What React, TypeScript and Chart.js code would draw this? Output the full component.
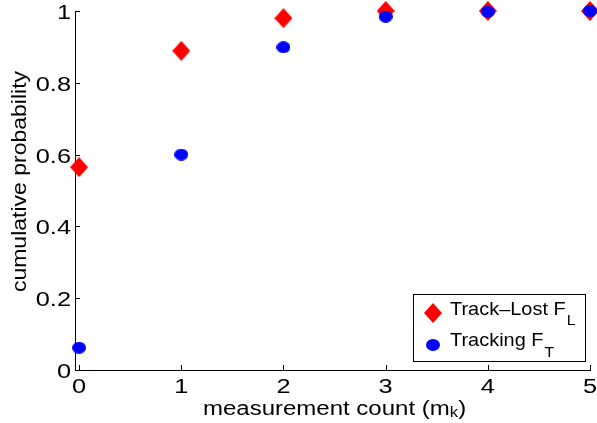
import React, { useEffect, useRef } from "react";
import { Chart, registerables } from "chart.js";

Chart.register(...registerables);

// ---- data ----
const categories = [0, 1, 2, 3, 4, 5];
const trackLost = [0.565, 0.889, 0.98, 1.0, 1.0, 1.0];
const tracking = [0.062, 0.6, 0.899, 0.984, 0.998, 1.0];
const xTicks = [0, 1, 2, 3, 4, 5];
const xTickLabels = ["0", "1", "2", "3", "4", "5"];
const yTicks = [0, 0.2, 0.4, 0.6, 0.8, 1];
const yTickLabels = ["0", "0.2", "0.4", "0.6", "0.8", "1"];
const seriesNames = ["Track\u2013Lost F", "Tracking F"];
const seriesSubs = ["L", "T"];
const xTitleMain = "measurement count (m";
const xTitleSub = "k";
const xTitleEnd = ")";
const yTitle = "cumulative probability";

const FONT = '"Liberation Sans", Arial, Helvetica, sans-serif';

function makeDiamond(w: number, h: number, color: string) {
  const c = document.createElement("canvas");
  c.width = w;
  c.height = h;
  const g = c.getContext("2d")!;
  g.fillStyle = color;
  g.beginPath();
  g.moveTo(w / 2, 0);
  g.lineTo(w, h / 2);
  g.lineTo(w / 2, h);
  g.lineTo(0, h / 2);
  g.closePath();
  g.fill();
  return c;
}

function makeEllipse(w: number, h: number, color: string) {
  const c = document.createElement("canvas");
  c.width = w;
  c.height = h;
  const g = c.getContext("2d")!;
  g.fillStyle = color;
  g.beginPath();
  g.ellipse(w / 2, h / 2, w / 2, h / 2, 0, 0, Math.PI * 2);
  g.fill();
  return c;
}

function drawText(
  ctx: CanvasRenderingContext2D,
  text: string,
  x: number,
  y: number,
  size: number,
  align: "left" | "center" | "right",
  sx: number
) {
  ctx.save();
  ctx.font = `${size}px ${FONT}`;
  ctx.textBaseline = "alphabetic";
  ctx.textAlign = "left";
  const w = ctx.measureText(text).width * sx;
  const left = align === "center" ? x - w / 2 : align === "right" ? x - w : x;
  ctx.translate(left, y);
  ctx.scale(sx, 1);
  ctx.fillStyle = "#000";
  ctx.fillText(text, 0, 0);
  ctx.restore();
  return w;
}

function measure(ctx: CanvasRenderingContext2D, text: string, size: number, sx: number) {
  ctx.save();
  ctx.font = `${size}px ${FONT}`;
  const w = ctx.measureText(text).width * sx;
  ctx.restore();
  return w;
}

export default function App() {
  const ref = useRef<HTMLCanvasElement | null>(null);

  useEffect(() => {
    document.body.style.margin = "0";
    const canvas = ref.current!;
    const diamond = makeDiamond(18, 20, "#ff0000");
    const ellipse = makeEllipse(14, 12, "#0000ff");
    const markers = [diamond, ellipse];

    const axisDecor = {
      id: "axisDecor",
      beforeDatasetsDraw(chart: any) {
        const ctx = chart.ctx as CanvasRenderingContext2D;
        const xs = chart.scales.x;
        const ys = chart.scales.y;
        const area = chart.chartArea;
        ctx.save();
        ctx.strokeStyle = "#000";
        ctx.lineWidth = 1;
        ctx.beginPath();
        xs.ticks.forEach((t: any) => {
          const px = Math.round(xs.getPixelForValue(t.value)) + 0.5;
          ctx.moveTo(px, area.bottom);
          ctx.lineTo(px, area.bottom - 5);
        });
        ys.ticks.forEach((t: any) => {
          const py = Math.round(ys.getPixelForValue(t.value)) + 0.5;
          ctx.moveTo(area.left, py);
          ctx.lineTo(area.left + 5, py);
        });
        ctx.stroke();
        ctx.restore();
      },
      afterDraw(chart: any) {
        const ctx = chart.ctx as CanvasRenderingContext2D;
        const xs = chart.scales.x;
        const ys = chart.scales.y;
        const area = chart.chartArea;
        // tick labels
        xs.ticks.forEach((t: any, i: number) => {
          const px = xs.getPixelForValue(t.value);
          drawText(ctx, xTickLabels[i], px, area.bottom + 23, 19.5, "center", 1.3);
        });
        ys.ticks.forEach((t: any, i: number) => {
          const py = ys.getPixelForValue(t.value);
          drawText(ctx, yTickLabels[i], area.left - 4, py + 8, 19.5, "right", 1.3);
        });
        // x title
        const cx = (xs.getPixelForValue(0) + area.right) / 2;
        const sxT = 1.2;
        const w1 = measure(ctx, xTitleMain, 20, sxT);
        const w2 = measure(ctx, xTitleSub, 14, sxT);
        const w3 = measure(ctx, xTitleEnd, 20, sxT);
        const x0 = cx - (w1 + w2 + w3) / 2;
        const base = area.bottom + 45;
        drawText(ctx, xTitleMain, x0, base, 20, "left", sxT);
        drawText(ctx, xTitleSub, x0 + w1, base + 2, 14, "left", sxT);
        drawText(ctx, xTitleEnd, x0 + w1 + w2, base, 20, "left", sxT);
        // y title
        ctx.save();
        ctx.translate(26, (area.top + area.bottom) / 2 - 9);
        ctx.rotate(-Math.PI / 2);
        drawText(ctx, yTitle, 0, 0, 20, "center", 1.15);
        ctx.restore();
        // legend
        const lx = 413.5, ly = 294.5, lw = 172, lh = 67;
        ctx.save();
        ctx.fillStyle = "#fff";
        ctx.fillRect(lx, ly, lw, lh);
        ctx.strokeStyle = "#000";
        ctx.lineWidth = 1;
        ctx.strokeRect(lx, ly, lw, lh);
        ctx.restore();
        const rows = [313, 344.5];
        seriesNames.forEach((name, i) => {
          const m = markers[i];
          ctx.drawImage(m, 433 - m.width / 2, Math.round(rows[i] - m.height / 2));
          const tw = drawText(ctx, name, 450, rows[i] + 1.5, 19, "left", 1.05);
          drawText(ctx, seriesSubs[i], 450 + tw + 1, rows[i] + 12, 15, "left", 1.05);
        });
      },
    };

    const chart = new Chart(canvas, {
      type: "scatter",
      data: {
        datasets: [
          {
            label: seriesNames[0] + seriesSubs[0],
            data: categories.map((x, i) => ({ x, y: trackLost[i] })),
            pointStyle: diamond as any,
            order: 2,
            clip: false as any,
          },
          {
            label: seriesNames[1] + seriesSubs[1],
            data: categories.map((x, i) => ({ x, y: tracking[i] })),
            pointStyle: ellipse as any,
            order: 1,
            clip: false as any,
          },
        ],
      },
      options: {
        responsive: false,
        animation: false,
        events: [],
        layout: { padding: { top: 11, right: 7, left: 0, bottom: 0 } },
        plugins: {
          legend: { display: false },
          tooltip: { enabled: false },
        },
        scales: {
          x: {
            type: "linear",
            min: -0.04,
            max: 5,
            afterBuildTicks: (s: any) => {
              s.ticks = xTicks.map((v) => ({ value: v }));
            },
            afterFit: (s: any) => {
              s.height = 53;
            },
            grid: { display: false, drawTicks: false },
            border: { display: true, color: "#000", width: 1 },
            ticks: { display: false },
          },
          y: {
            type: "linear",
            min: 0,
            max: 1,
            afterBuildTicks: (s: any) => {
              s.ticks = yTicks.map((v) => ({ value: v }));
            },
            afterFit: (s: any) => {
              s.width = 75;
            },
            grid: { display: false, drawTicks: false },
            border: { display: true, color: "#000", width: 1 },
            ticks: { display: false },
          },
        },
      },
      plugins: [axisDecor],
    });
    return () => chart.destroy();
  }, []);

  return (
    <div style={{ width: 597, height: 423 }}>
      <canvas ref={ref} width={597} height={423} style={{ display: "block" }} />
    </div>
  );
}
